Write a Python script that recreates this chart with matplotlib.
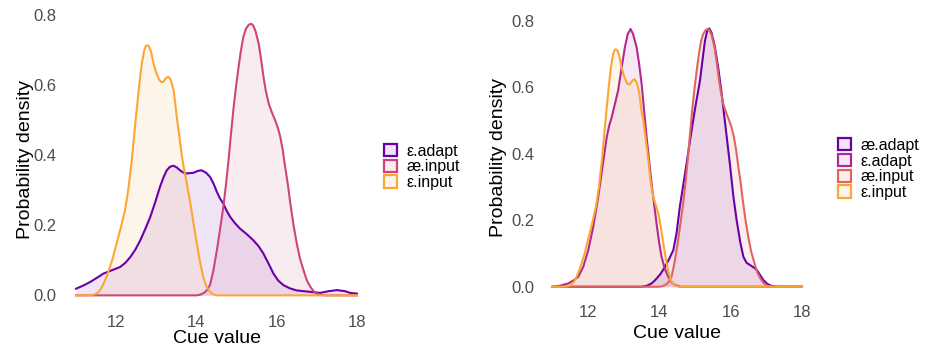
import matplotlib
matplotlib.use("Agg")
import matplotlib.pyplot as plt
from matplotlib.patches import Patch

plt.rcParams['font.family'] = ['Liberation Sans', 'DejaVu Sans']

# density curves (cue value, density)
eps_input_x = [11.0, 11.3, 11.45, 11.52, 11.6, 11.68, 11.77, 11.9, 12.01, 12.12, 12.22, 12.3,
               12.39, 12.45, 12.51, 12.58, 12.64, 12.7, 12.74, 12.78, 12.82, 12.87, 12.93, 13.0,
               13.08, 13.13, 13.18, 13.24, 13.3, 13.36, 13.43, 13.47, 13.51, 13.58, 13.64, 13.7,
               13.76, 13.83, 13.89, 13.95, 14.01, 14.09, 14.17, 14.25, 14.34, 14.42, 14.51, 18.0]
eps_input_y = [0.0, 0.0, 0.002, 0.006, 0.015, 0.032, 0.056, 0.1, 0.148, 0.195, 0.243, 0.3,
               0.386, 0.46, 0.529, 0.605, 0.662, 0.7, 0.712, 0.714, 0.71, 0.695, 0.662, 0.635,
               0.614, 0.608, 0.61, 0.62, 0.624, 0.615, 0.586, 0.55, 0.509, 0.45, 0.395, 0.355,
               0.32, 0.275, 0.233, 0.19, 0.148, 0.095, 0.052, 0.025, 0.01, 0.003, 0.0, 0.0]

# right panel input vowel has a heavier right shoulder
eps_input2_x = [11.0, 11.3, 11.45, 11.52, 11.6, 11.68, 11.77, 11.9, 12.01, 12.12, 12.22, 12.3,
                12.39, 12.45, 12.51, 12.58, 12.64, 12.7, 12.74, 12.78, 12.82, 12.87, 12.93, 13.0,
                13.08, 13.13, 13.18, 13.24, 13.3, 13.36, 13.43, 13.47, 13.51, 13.55, 13.62, 13.69,
                13.76, 13.83, 13.9, 13.97, 14.04, 14.11, 14.18, 14.25, 14.33, 14.44, 14.55, 18.0]
eps_input2_y = [0.0, 0.0, 0.002, 0.006, 0.015, 0.032, 0.056, 0.1, 0.148, 0.195, 0.243, 0.3,
                0.386, 0.46, 0.529, 0.605, 0.662, 0.7, 0.712, 0.714, 0.71, 0.695, 0.662, 0.635,
                0.614, 0.608, 0.61, 0.62, 0.624, 0.615, 0.586, 0.55, 0.52, 0.5, 0.44, 0.38,
                0.31, 0.27, 0.245, 0.22, 0.18, 0.13, 0.085, 0.045, 0.018, 0.003, 0.0, 0.0]

ae_input_x = [11.0, 14.0, 14.1, 14.2, 14.27, 14.34, 14.42, 14.51, 14.59, 14.67, 14.74, 14.8,
              14.86, 14.92, 14.98, 15.05, 15.11, 15.17, 15.23, 15.3, 15.36, 15.41, 15.47, 15.55,
              15.61, 15.67, 15.73, 15.8, 15.88, 15.96, 16.03, 16.09, 16.15, 16.21, 16.28, 16.34,
              16.42, 16.5, 16.58, 16.67, 16.75, 16.84, 16.92, 17.0, 17.1, 17.2, 18.0]
ae_input_y = [0.0, 0.0, 0.002, 0.008, 0.016, 0.03, 0.07, 0.129, 0.19, 0.252, 0.32, 0.386,
              0.46, 0.529, 0.59, 0.652, 0.7, 0.738, 0.76, 0.772, 0.775, 0.771, 0.755, 0.719,
              0.675, 0.624, 0.583, 0.548, 0.522, 0.5, 0.478, 0.452, 0.415, 0.367, 0.315, 0.262,
              0.2, 0.148, 0.105, 0.071, 0.043, 0.024, 0.012, 0.005, 0.001, 0.0, 0.0]

# left panel adapted vowel
eps_adapt1_x = [11.0, 11.18, 11.35, 11.52, 11.68, 11.9, 12.1, 12.23, 12.35, 12.48, 12.6, 12.72,
                12.85, 12.97, 13.09, 13.18, 13.26, 13.34, 13.43, 13.51, 13.59, 13.68, 13.76,
                13.85, 13.93, 14.03, 14.13, 14.24, 14.34, 14.43, 14.51, 14.59, 14.67, 14.75,
                14.84, 14.96, 15.09, 15.25, 15.42, 15.55, 15.67, 15.8, 15.92, 16.04, 16.17,
                16.33, 16.5, 16.84, 17.08, 17.3, 17.5, 17.7, 17.83, 18.0]
eps_adapt1_y = [0.019, 0.028, 0.038, 0.05, 0.062, 0.072, 0.081, 0.093, 0.109, 0.131, 0.157, 0.188,
                0.224, 0.265, 0.309, 0.337, 0.357, 0.367, 0.37, 0.365, 0.357, 0.35, 0.348,
                0.349, 0.35, 0.355, 0.357, 0.35, 0.338, 0.318, 0.295, 0.276, 0.262, 0.242,
                0.224, 0.206, 0.19, 0.175, 0.157, 0.14, 0.119, 0.09, 0.062, 0.042, 0.029,
                0.02, 0.014, 0.01, 0.007, 0.012, 0.015, 0.012, 0.007, 0.005]

# right panel adapted vowels
ae_adapt2_x = [11.0, 13.5, 13.65, 13.78, 13.88, 14.02, 14.16, 14.28, 14.39, 14.48, 14.58, 14.72,
               14.86, 15.0, 15.14, 15.22, 15.28, 15.34, 15.4, 15.46, 15.52, 15.56, 15.65, 15.75,
               15.87, 15.99, 16.08, 16.17, 16.27, 16.36, 16.45, 16.55, 16.65, 16.74, 16.83,
               16.92, 17.04, 17.16, 17.3, 18.0]
ae_adapt2_y = [0.0, 0.0, 0.003, 0.01, 0.02, 0.037, 0.06, 0.085, 0.11, 0.16, 0.245, 0.34,
               0.44, 0.535, 0.62, 0.69, 0.74, 0.768, 0.777, 0.765, 0.74, 0.72, 0.66, 0.58,
               0.47, 0.36, 0.27, 0.2, 0.135, 0.09, 0.072, 0.065, 0.058, 0.05, 0.035,
               0.02, 0.008, 0.002, 0.0, 0.0]

eps_adapt2_x = [11.0, 11.2, 11.44, 11.6, 11.72, 11.86, 12.0, 12.14, 12.28, 12.4, 12.52, 12.59,
                12.66, 12.75, 12.84, 12.94, 13.03, 13.11, 13.19, 13.26, 13.36, 13.43, 13.5,
                13.57, 13.64, 13.71, 13.78, 13.85, 13.92, 13.99, 14.06, 14.15, 14.25, 14.35,
                14.44, 14.6, 18.0]
eps_adapt2_y = [0.0, 0.003, 0.01, 0.02, 0.03, 0.06, 0.11, 0.18, 0.27, 0.36, 0.45, 0.485,
                0.51, 0.55, 0.59, 0.66, 0.72, 0.76, 0.775, 0.76, 0.72, 0.67, 0.61,
                0.53, 0.45, 0.38, 0.31, 0.25, 0.19, 0.135, 0.09, 0.055, 0.03, 0.013,
                0.005, 0.0, 0.0]

x_ticks = [12, 14, 16, 18]
y_ticks = [0.0, 0.2, 0.4, 0.6, 0.8]

purple = '#6A00A8'
magenta = '#B12A90'
pink = '#CC4778'
salmon = '#E16462'
orange = '#FCA636'

left_series = [
    ('ε.adapt', eps_adapt1_x, eps_adapt1_y, purple),
    ('æ.input', ae_input_x, ae_input_y, pink),
    ('ε.input', eps_input_x, eps_input_y, orange),
]
right_series = [
    ('æ.adapt', ae_adapt2_x, ae_adapt2_y, purple),
    ('ε.adapt', eps_adapt2_x, eps_adapt2_y, magenta),
    ('æ.input', ae_input_x, ae_input_y, salmon),
    ('ε.input', eps_input2_x, eps_input2_y, orange),
]

fig = plt.figure(figsize=(9.28, 3.52), dpi=100)
ax1 = fig.add_axes([0.0668, 0.1222, 0.333, 0.851])
ax2 = fig.add_axes([0.5821, 0.1486, 0.2953, 0.8077])


def draw_panel(ax, series, legend_xy, ylab_x, xlab_y):
    handles = []
    for name, xs, ys, c in series:
        ax.fill_between(xs, ys, 0, color=c, alpha=0.1, lw=0)
        ax.plot(xs, ys, color=c, lw=1.5, solid_joinstyle='round')
        handles.append(Patch(facecolor=matplotlib.colors.to_rgba(c, 0.1),
                             edgecolor=c, lw=1.6, label=name))
    ax.set_xlim(10.65, 18.35)
    ax.set_ylim(-0.0389, 0.816)
    ax.set_xticks(x_ticks)
    ax.set_yticks(y_ticks)
    ax.set_yticklabels(['%.1f' % v for v in y_ticks])
    ax.tick_params(length=0, labelsize=12, labelcolor='#4D4D4D', pad=4)
    for s in ax.spines.values():
        s.set_visible(False)
    ax.set_xlabel('Cue value', fontsize=14)
    ax.set_ylabel('Probability density', fontsize=14)
    ax.yaxis.set_label_coords(ylab_x, 0.5)
    ax.xaxis.set_label_coords(0.5, xlab_y)
    fig.legend(handles=handles, loc='center left', bbox_to_anchor=legend_xy,
               bbox_transform=fig.transFigure, frameon=False, fontsize=11.5,
               handlelength=0.8, handleheight=0.8, handletextpad=0.6,
               labelspacing=0.05, borderpad=0, borderaxespad=0)


draw_panel(ax1, left_series, (0.414, 0.526), -0.09, -0.07)
draw_panel(ax2, right_series, (0.903, 0.52), -0.122, -0.09)

fig.savefig('out.png', dpi=100)
